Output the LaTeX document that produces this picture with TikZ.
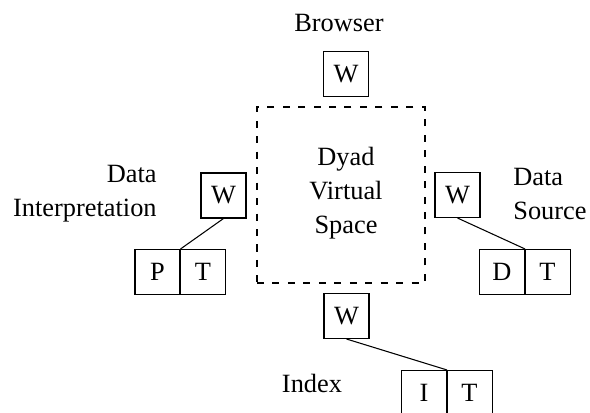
\documentclass[tikz,border=0pt]{standalone}
\usepackage{fontspec}
\setmainfont{Liberation Serif}
\usetikzlibrary{positioning}

\begin{document}
\begin{tikzpicture}[
            wbox/.style={draw, line width=0.6pt, minimum size=0.9cm, inner sep=0pt},
            space/.style={draw, dashed, dash pattern=on 4pt off 4.8pt, line width=0.6pt, minimum width=3.36cm, minimum height=3.52cm},
            label/.style={inner sep=0pt},
            link/.style={line width=0.6pt},
            font=\fontsize{15}{19.3}\selectfont,
            node distance=0pt
        ]
        \useasboundingbox (0,0) rectangle (11.8,8.26);

        \node[label] (browserlbl) at (6.78,7.80) {Browser};
        \node[wbox] (wtop) at (6.92,6.78) {W};

        \node[space] (dyad) at (6.82,4.36) {};
        \node[label, align=center] (dyadlbl) at (6.92,4.40) {Dyad\\Virtual\\Space};

        % Data interpretation
        \node[wbox] (wleft) at (4.47,4.35) {W};
        \node[wbox] (p) at (3.15,2.82) {P};
        \node[wbox, right=of p.east, anchor=west, xshift=-0.3pt] (tleft) {T};
        \node[label, anchor=east, align=right] (interplbl) at (3.14,4.38) {Data\\Interpretation};

        % Data source
        \node[wbox] (wright) at (9.15,4.36) {W};
        \node[wbox] (d) at (10.04,2.82) {D};
        \node[wbox, right=of d.east, anchor=west, xshift=-0.3pt] (tright) {T};
        \node[label, anchor=west, align=left] (sourcelbl) at (10.26,4.38) {Data\\Source};

        % Index
        \node[wbox] (wbot) at (6.93,1.94) {W};
        \node[wbox] (i) at (8.48,0.40) {I};
        \node[wbox, right=of i.east, anchor=west, xshift=-0.3pt] (tbot) {T};
        \node[label] (indexlbl) at (6.24,0.60) {Index};

        \draw[link] (wleft.south) -- (p.north east);
        \draw[link] (wright.south) -- (d.north east);
        \draw[link] (wbot.south) -- (i.north east);

    \end{tikzpicture}
\end{document}
